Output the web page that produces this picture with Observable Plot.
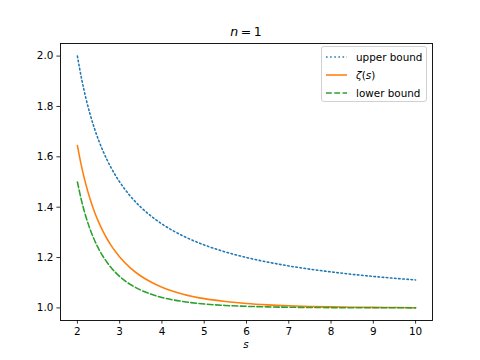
<!DOCTYPE html>
<html>
<head>
<meta charset="utf-8">
<script src="https://cdn.jsdelivr.net/npm/d3@7"></script>
<script src="https://cdn.jsdelivr.net/npm/@observablehq/plot@0.6"></script>
<style>
  body { margin: 0; background: white; font-family: "DejaVu Sans", sans-serif; }
  #wrap { position: relative; width: 480px; height: 360px; }
  #title { position: absolute; left: 60px; width: 372px; top: 24px; text-align: center; font-size: 12.5px; color: black; }
  #xlabel { position: absolute; left: 60px; width: 372px; top: 338px; text-align: center; font-size: 10.4px; font-style: italic; color: black; }
  #legend { position: absolute; left: 321px; top: 46px; width: 106px; height: 56px; box-sizing: border-box;
            border: 1px solid #d0d0d0; border-radius: 3px; background: rgba(255,255,255,0.8); font-size: 10.4px; color: black; }
  .row { position: absolute; left: 4px; height: 14px; display: flex; align-items: center; }
  .row svg { margin-right: 9px; }
</style>
</head>
<body>
<div id="wrap">
  <div id="chart"></div>
  <div id="title"><i>n</i>&#8201;=&#8201;1</div>
  <div id="xlabel">s</div>
  <div id="legend"></div>
</div>
<script>
const sValues = [2, 2.1, 2.2, 2.3, 2.4, 2.5, 2.6, 2.7, 2.8, 2.9, 3, 3.25, 3.5, 3.75, 4, 4.5, 5, 5.5, 6, 6.5, 7, 7.5, 8, 8.5, 9, 9.5, 10];
const upperBound = [2.0, 1.90909, 1.83333, 1.76923, 1.71429, 1.66667, 1.625, 1.58824, 1.55556, 1.52632, 1.5, 1.44444, 1.4, 1.36364, 1.33333, 1.28571, 1.25, 1.22222, 1.2, 1.18182, 1.16667, 1.15385, 1.14286, 1.13333, 1.125, 1.11765, 1.11111];
const zetaValues = [1.64493, 1.56020, 1.49054, 1.43242, 1.38319, 1.34149, 1.30564, 1.27462, 1.24759, 1.22390, 1.20206, 1.15919, 1.12673, 1.10181, 1.08232, 1.05471, 1.03693, 1.02553, 1.01734, 1.01200, 1.00835, 1.00583, 1.00408, 1.00286, 1.00201, 1.00141, 1.00099];
const lowerBound = [1.5, 1.42411, 1.36273, 1.31240, 1.27066, 1.23570, 1.20617, 1.18105, 1.15954, 1.14102, 1.125, 1.09343, 1.07071, 1.05406, 1.04167, 1.02525, 1.01563, 1.00982, 1.00625, 1.00402, 1.00260, 1.00170, 1.00112, 1.00074, 1.00049, 1.00032, 1.00022];
const xTicks = [2, 3, 4, 5, 6, 7, 8, 9, 10];
const yTicks = [1.0, 1.2, 1.4, 1.6, 1.8, 2.0];

const series = [
  {name: "upper bound", values: upperBound, color: "#1f77b4", dash: "1.56,2.58", label: "upper bound"},
  {name: "zeta", values: zetaValues, color: "#ff7f0e", dash: null, label: "<i>ζ</i>(<i>s</i>)"},
  {name: "lower bound", values: lowerBound, color: "#2ca02c", dash: "5.78,2.5", label: "lower bound"}
];

const marks = [];
for (const ser of series) {
  const rows = sValues.map((s, i) => ({s, v: ser.values[i]}));
  marks.push(Plot.line(rows, {x: "s", y: "v", stroke: ser.color, strokeWidth: 1.56, strokeDasharray: ser.dash, curve: "monotone-x"}));
}

const chart = Plot.plot({
  width: 480,
  height: 360,
  marginLeft: 60,
  marginRight: 48,
  marginTop: 43,
  marginBottom: 40,
  style: {fontFamily: "DejaVu Sans, sans-serif", fontSize: "10.4px", color: "black", background: "white"},
  x: {domain: [1.6, 10.4], label: null},
  y: {domain: [0.95, 2.05], label: null},
  marks: [
    ...marks,
    Plot.axisX({ticks: xTicks, tickSize: 3.6, tickPadding: 3.6, tickFormat: d => String(d), label: null, strokeWidth: 0.8}),
    Plot.axisY({ticks: yTicks, tickSize: 3.6, tickPadding: 3.6, tickFormat: d3.format(".1f"), label: null, strokeWidth: 0.8}),
    Plot.frame({stroke: "black", strokeWidth: 0.9})
  ]
});
document.getElementById("chart").appendChild(chart);

const legend = document.getElementById("legend");
series.forEach((ser, i) => {
  const row = document.createElement("div");
  row.className = "row";
  row.style.top = (3 + i * 18) + "px";
  row.innerHTML = `<svg width="21" height="10"><line x1="0" x2="21" y1="5" y2="5" stroke="${ser.color}" stroke-width="1.56" ${ser.dash ? `stroke-dasharray="${ser.dash}"` : ""}/></svg><span>${ser.label}</span>`;
  legend.appendChild(row);
});
</script>
</body>
</html>
